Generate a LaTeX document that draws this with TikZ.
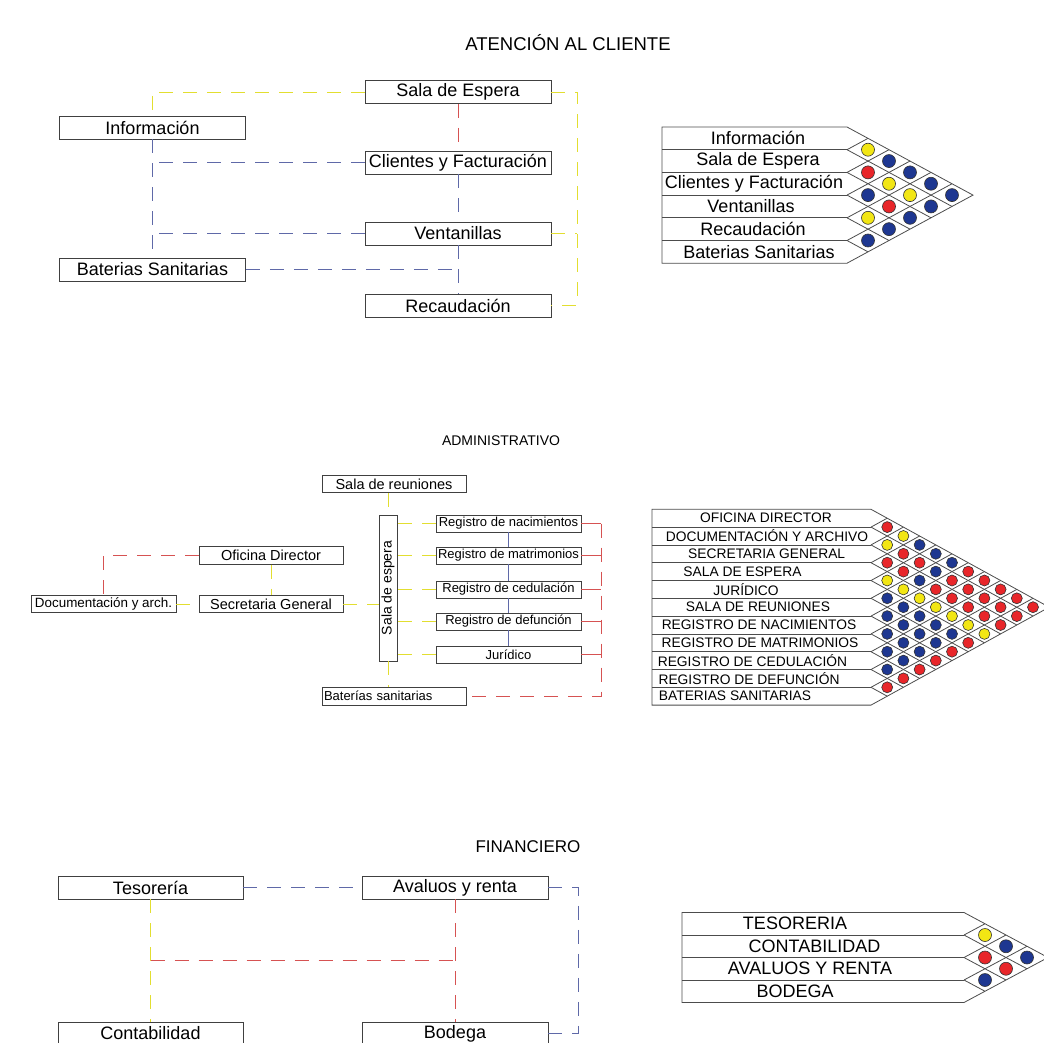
\documentclass[tikz,border=0pt]{standalone}
\usepackage{fontspec}
\setmainfont{Liberation Sans}
\definecolor{lnY}{RGB}{226,222,48}
\definecolor{lnR}{RGB}{214,82,82}
\definecolor{lnB}{RGB}{95,105,168}
\definecolor{cY}{RGB}{242,230,20}
\definecolor{cR}{RGB}{232,38,42}
\definecolor{cB}{RGB}{30,55,145}
\newcommand\relmatrix[6]{% x0, x1, y0, h, D, N
  \draw[matline] (#1,#3) -- (#2,#3) -- ({#2+#6*#5},{#3+#6*#4/2}) -- (#2,{#3+#6*#4}) -- (#1,{#3+#6*#4}) -- cycle;
  \pgfmathtruncatemacro\nmo{#6-1}
  \foreach \kk in {1,...,\nmo} {
    \pgfmathsetmacro\yk{#3+\kk*#4}
    \draw[matline] (#1,\yk) -- (#2,\yk);
    \draw[matline] (#2,\yk) -- ({#2+(#6-\kk)*#5},{\yk+(#6-\kk)*#4/2});
    \draw[matline] (#2,\yk) -- ({#2+\kk*#5},{\yk-\kk*#4/2});
  }
}
\newcommand\relcircles[6]{% x1, y0, h, D, r, list
  \foreach \dd/\cols in {#6} {
    \foreach \cc [count=\ii from 0] in \cols {
      \fill[fill=c\cc, draw=black!80, line width=0.6pt] ({#1+\dd*#4},{#2+(2*\ii+\dd+1)*#3/2}) circle (#5pt);
    }
  }
}
\begin{document}
\begin{tikzpicture}[x=1pt,y=-1pt,
  box/.style={draw=black!75, line width=0.9pt, inner sep=0pt, anchor=center},
  bigbox/.style={box, minimum width=186pt, minimum height=23pt, font=\fontsize{18}{18}\selectfont},
  midbox/.style={box, minimum width=144pt, minimum height=17.5pt, font=\fontsize{14.5}{14.5}\selectfont},
  regbox/.style={box, minimum width=145pt, minimum height=17pt, font=\fontsize{13}{13}\selectfont},
  conn/.style={line width=0.85pt, dash pattern=on 14pt off 10pt},
  lineY/.style={conn, draw=lnY},
  lineR/.style={conn, draw=lnR},
  lineB/.style={conn, draw=lnB},
  solidB/.style={line width=0.85pt, draw=lnB},
  solidR/.style={line width=0.85pt, draw=lnR},
  matline/.style={draw=black!70, line width=0.8pt},
  ttl/.style={inner sep=0pt}
]
\useasboundingbox (0,0) rectangle (1044,1043);

% ================= ATENCION AL CLIENTE =================
\node[ttl, font=\fontsize{18.5}{18.5}\selectfont] (t1) at (568,43) {ATENCIÓN AL CLIENTE};
\node[bigbox] (sala) at (458,92) {Sala de Espera};
\node[bigbox] (info) at (152.5,127.5) {Información};
\node[bigbox] (cli) at (458,162.5) {Clientes y Facturación};
\node[bigbox] (vent) at (458,233.5) {Ventanillas};
\node[bigbox] (batA) at (152.5,269.5) {Baterias Sanitarias};
\node[bigbox] (rec) at (458,305.5) {Recaudación};
\coordinate (yr1) at (577,0);

\draw[lineY] (sala.west) -| (info.north);
\draw[lineY] (sala.east) -- (sala.east -| yr1) |- (rec.east);
\draw[lineY] (vent.east) -- (vent.east -| yr1);
\draw[lineR] (sala.south) -- (cli.north);
\draw[lineB] (info.south) -- (batA.north);
\draw[lineB] (cli.west) -- (cli.west -| info.south);
\draw[lineB] (vent.west) -- (vent.west -| info.south);
\draw[lineB] (cli.south) -- (vent.north);
\draw[lineB] (vent.south) -- (rec.north);
\draw[lineB] (batA.east) -- (batA.east -| vent.south);

% matrix 1
\relmatrix{662}{847}{127}{22.7}{21}{6}
\relcircles{847}{127}{22.7}{21}{6.5}{1/{Y,R,B,Y,B},2/{B,Y,R,B},3/{B,Y,B},4/{B,B},5/{B}}
\foreach \tt/\xc [count=\ii from 0] in {Información/758,Sala de Espera/758,Clientes y Facturación/754,Ventanillas/751,Recaudación/753,Baterias Sanitarias/759}
  \node[ttl, font=\fontsize{18}{18}\selectfont] (ma\ii) at (\xc,{127+(\ii+0.5)*22.7}) {\tt};

% ================= ADMINISTRATIVO =================
\node[ttl, font=\fontsize{14}{14}\selectfont] (t2) at (501,441) {ADMINISTRATIVO};
\node[midbox] (reun) at (394,484) {Sala de reuniones};
\node[box, rotate=90, minimum width=146pt, minimum height=18pt, font=\fontsize{14}{14}\selectfont] (esp) at (388,588) {Sala de espera};
\node[regbox] (rnac) at (508.5,523.5) {Registro de nacimientos};
\node[regbox] (rmat) at (508.5,555.5) {Registro de matrimonios};
\node[regbox] (rced) at (508.5,589.5) {Registro de cedulación};
\node[regbox] (rdef) at (508.5,621.5) {Registro de defunción};
\node[regbox] (rjur) at (508.5,654.5) {Jurídico};
\node[midbox] (ofi) at (271,555.5) {Oficina Director};
\node[midbox] (sec) at (271,604) {Secretaria General};
\node[box, minimum width=145pt, minimum height=17.5pt, font=\fontsize{13.4}{13.4}\selectfont] (doc) at (103.5,604) {Documentación y arch.};
\node[box, text width=140pt, inner xsep=2pt, align=left, minimum height=18pt, font=\fontsize{13}{13}\selectfont] (batB) at (394,696) {Baterías sanitarias};
\coordinate (rr2) at (601,0);

\draw[lineY] (esp.east |- reun.south) -- (esp.east);
\draw[lineY] (esp.west) -- (esp.west |- batB.north);
\foreach \rn in {rnac,rmat,rced,rdef,rjur}
  \draw[lineY] (\rn.west) -- (\rn.west -| esp.south);
\draw[solidB] (rnac.south) -- (rmat.north);
\draw[solidB] (rmat.south) -- (rced.north);
\draw[solidB] (rced.south) -- (rdef.north);
\draw[solidB] (rdef.south) -- (rjur.north);
\foreach \rn in {rnac,rmat,rced,rdef,rjur}
  \draw[solidR] (\rn.east) -- (\rn.east -| rr2);
\draw[lineR] (rnac.east -| rr2) -- (rr2 |- batB.east) -- (batB.east);
\draw[lineY] (sec.east) -- (sec.east -| esp.north);
\draw[lineY] (ofi.south) -- (sec.north);
\draw[lineY] (doc.east) -- (sec.west);
\draw[lineR] (ofi.west) -| (doc.north);

% matrix 2
\relmatrix{652}{871}{509.3}{17.8}{16.2}{11}
\relcircles{871}{509.3}{17.8}{16.2}{5.5}{1/{R,Y,R,Y,B,B,B,B,B,R},2/{Y,R,R,Y,B,B,B,B,R},3/{B,R,B,Y,B,B,B,R},4/{B,B,R,Y,B,B,R},5/{B,R,R,Y,B,R},6/{R,R,R,Y,R},7/{R,R,R,Y},8/{R,R,R},9/{R,R},10/{R}}
\foreach \tt/\xc [count=\ii from 0] in {OFICINA DIRECTOR/766,DOCUMENTACIÓN Y ARCHIVO/767,SECRETARIA GENERAL/766.7,SALA DE ESPERA/742.5,JURÍDICO/746,SALA DE REUNIONES/758,REGISTRO DE NACIMIENTOS/759,REGISTRO DE MATRIMONIOS/760,REGISTRO DE CEDULACIÓN/752.5,REGISTRO DE DEFUNCIÓN/749,BATERIAS SANITARIAS/735}
  \node[ttl, font=\fontsize{13.8}{13.8}\selectfont] (mb\ii) at (\xc,{509.3+(\ii+0.5)*17.8}) {\tt};

% ================= FINANCIERO =================
\node[ttl, font=\fontsize{17}{17}\selectfont] (t3) at (528,847) {FINANCIERO};
\node[bigbox, minimum width=185pt] (teso) at (150.5,887.5) {Tesorería};
\node[bigbox] (aval) at (455,887.5) {Avaluos y renta};
\node[bigbox, minimum width=185pt] (conta) at (150.5,1033.5) {Contabilidad};
\node[bigbox] (bod) at (455,1033.5) {Bodega};
\coordinate (hm3) at (0,960);
\coordinate (br3) at (578,0);

\draw[lineB] (teso.east) -- (aval.west);
\draw[lineY] (teso.south) -- (conta.north);
\draw[lineR] (aval.south) -- (bod.north);
\draw[lineR] (teso.south |- hm3) -- (aval.south |- hm3);
\draw[lineB] (aval.east) -- (aval.east -| br3) |- (bod.east);

% matrix 3
\relmatrix{682}{964}{912.5}{22.5}{21}{4}
\relcircles{964}{912.5}{22.5}{21}{6.5}{1/{Y,R,B},2/{B,R},3/{B}}
\foreach \tt/\xc [count=\ii from 0] in {TESORERIA/795,CONTABILIDAD/814.5,AVALUOS Y RENTA/810,BODEGA/795}
  \node[ttl, font=\fontsize{18}{18}\selectfont] (mc\ii) at (\xc,{912.5+(\ii+0.5)*22.5}) {\tt};
\end{tikzpicture}
\end{document}
